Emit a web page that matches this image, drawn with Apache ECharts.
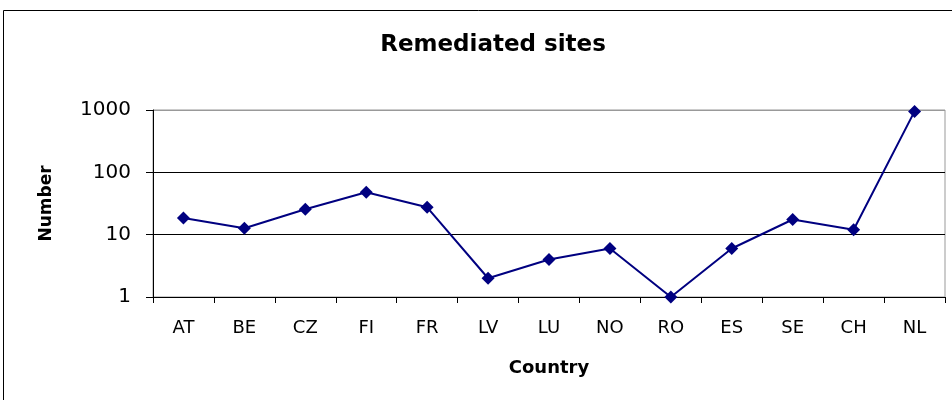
<!DOCTYPE html>
<html>
<head>
<meta charset="utf-8">
<script src="https://cdn.jsdelivr.net/npm/echarts@6/dist/echarts.min.js"></script>
<style>
  html, body { margin: 0; padding: 0; background: #fff; }
  #chart { width: 952px; height: 400px; }
</style>
</head>
<body>
<div id="chart"></div>
<script>
var countries = ["AT", "BE", "CZ", "FI", "FR", "LV", "LU", "NO", "RO", "ES", "SE", "CH", "NL"];
var sites = [18.5, 12.7, 25.5, 48, 27.5, 2, 4, 6, 1, 6, 17.5, 12, 950];

var font = "DejaVu Sans, Liberation Sans, Arial, sans-serif";
var chart = echarts.init(document.getElementById("chart"));
chart.setOption({
  animation: false,
  title: {
    text: "Remediated sites",
    left: 488,
    top: 29,
    textAlign: "center",
    textStyle: { fontFamily: font, fontSize: 23, fontWeight: "bold", color: "#000" }
  },
  graphic: [
    {
      type: "rect",
      shape: { x: 3.5, y: 10.5, width: 960, height: 400 },
      style: { fill: null, stroke: "#000", lineWidth: 1 }
    }
  ],
  grid: {
    left: 153,
    right: 7,
    top: 110,
    bottom: 103,
    show: true,
    borderColor: "#999",
    borderWidth: 1
  },
  xAxis: {
    type: "category",
    data: countries,
    boundaryGap: true,
    name: "Country",
    nameLocation: "middle",
    nameGap: 62,
    nameTextStyle: { fontFamily: font, fontSize: 18, fontWeight: "bold", color: "#000" },
    axisLine: { lineStyle: { color: "#000", width: 1 } },
    axisTick: { show: true, alignWithLabel: false, length: 6, lineStyle: { color: "#000" } },
    axisLabel: { fontFamily: font, fontSize: 18, color: "#000", margin: 22 },
    splitLine: { show: false }
  },
  yAxis: {
    type: "log",
    logBase: 10,
    min: 1,
    max: 1000,
    name: "Number",
    nameLocation: "middle",
    nameGap: 98,
    nameRotate: 90,
    nameTextStyle: { fontFamily: font, fontSize: 17, fontWeight: "bold", color: "#000" },
    axisLine: { show: true, lineStyle: { color: "#000", width: 1 } },
    axisTick: { show: true, length: 7, lineStyle: { color: "#000" } },
    axisLabel: {
      fontFamily: font,
      fontSize: 20,
      color: "#000",
      margin: 22,
      formatter: function (v) { return String(Math.round(v)); }
    },
    minorTick: { show: false },
    splitLine: { show: true, lineStyle: { color: ["#000", "#000", "#000", "#999"], width: 1 } }
  },
  series: [
    {
      type: "line",
      data: sites,
      symbol: "diamond",
      symbolSize: 13,
      itemStyle: { color: "#000080" },
      lineStyle: { color: "#000080", width: 2 }
    }
  ]
});
</script>
</body>
</html>
